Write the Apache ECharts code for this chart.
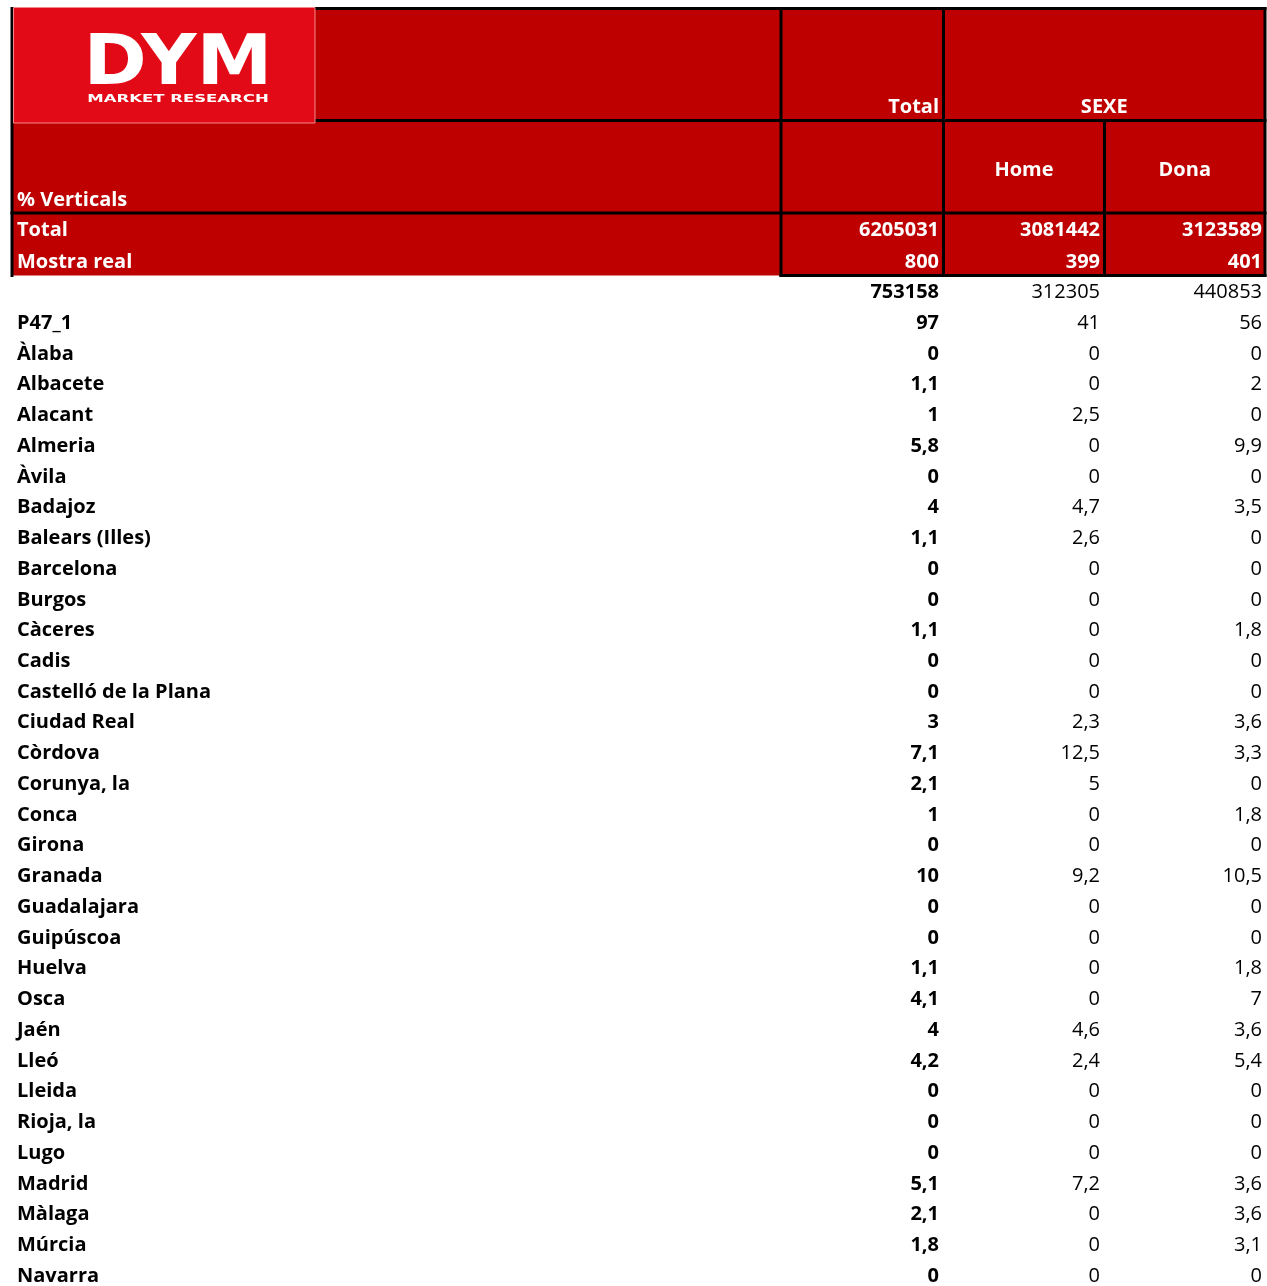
<!DOCTYPE html>
<html><head><meta charset="utf-8">
<script src="https://cdn.jsdelivr.net/npm/echarts@6/dist/echarts.min.js"></script>
<style>html,body{margin:0;padding:0;background:#fff}#c{width:1267px;height:1286px}</style>
</head><body><div id="c"></div>
<script>
// ---------- DATA ----------
const logoTitle = "DYM";
const logoSubtitle = "MARKET RESEARCH";
const tableTitle = "% Verticals";
const headerTotal = "Total";
const headerGroup = "SEXE";
const groupCols = ["Home", "Dona"];
const universeLabel = "Total";
const universeVals = [6205031, 3081442, 3123589];
const sampleLabel = "Mostra real";
const sampleVals = [800, 399, 401];

const rowLabels = ["", "P47_1", "Àlaba", "Albacete", "Alacant", "Almeria", "Àvila", "Badajoz",
  "Balears (Illes)", "Barcelona", "Burgos", "Càceres", "Cadis", "Castelló de la Plana",
  "Ciudad Real", "Còrdova", "Corunya, la", "Conca", "Girona", "Granada", "Guadalajara",
  "Guipúscoa", "Huelva", "Osca", "Jaén", "Lleó", "Lleida", "Rioja, la", "Lugo", "Madrid",
  "Màlaga", "Múrcia", "Navarra"];
const totalVals = [753158, 97, 0, 1.1, 1, 5.8, 0, 4, 1.1, 0, 0, 1.1, 0, 0, 3, 7.1, 2.1, 1, 0, 10,
  0, 0, 1.1, 4.1, 4, 4.2, 0, 0, 0, 5.1, 2.1, 1.8, 0];
const homeVals = [312305, 41, 0, 0, 2.5, 0, 0, 4.7, 2.6, 0, 0, 0, 0, 0, 2.3, 12.5, 5, 0, 0, 9.2,
  0, 0, 0, 0, 4.6, 2.4, 0, 0, 0, 7.2, 0, 0, 0];
const donaVals = [440853, 56, 0, 2, 0, 9.9, 0, 3.5, 0, 0, 0, 1.8, 0, 0, 3.6, 3.3, 0, 1.8, 0, 10.5,
  0, 0, 1.8, 7, 3.6, 5.4, 0, 0, 0, 3.6, 3.6, 3.1, 0];

// ---------- LAYOUT ----------
const W = 1267, H = 1286;
const FONT = 'Open Sans';
const FS = 20;
const LABEL_X = 17;
const COL_RIGHT = [939, 1100, 1262];
const X_L = 12, X_C1 = 781, X_C2 = 943.5, X_C3 = 1104.5, X_R = 1265;
const Y_T = 8.5, Y_H1 = 120.5, Y_H2 = 213, Y_B = 275.5;
const RED = '#BE0000', LOGO_RED = '#E30A17';
const fmt = v => String(v).replace('.', ',');

function headerRender(params, api) {
  const c = (x, y) => api.coord([x, y]);
  const kids = [];
  const rect = (x0, y0, x1, y1, style) => {
    const a = c(x0, y0), b = c(x1, y1);
    kids.push({type: 'rect', shape: {x: a[0], y: a[1], width: b[0] - a[0], height: b[1] - a[1]}, style});
  };
  const line = (x0, y0, x1, y1) => {
    const a = c(x0, y0), b = c(x1, y1);
    kids.push({type: 'line', shape: {x1: a[0], y1: a[1], x2: b[0], y2: b[1]}, style: {stroke: '#000', lineWidth: 3}});
  };
  const text = (s, x, y, align) => {
    const p = c(x, y);
    kids.push({type: 'text', x: p[0], y: p[1], style: {
      text: s, fill: '#fff', fontFamily: FONT, fontSize: FS, fontWeight: 'bold',
      align: align, verticalAlign: 'middle'}});
  };
  rect(X_L, Y_T, X_R, Y_B, {fill: RED});
  line(X_L - 1, Y_T, X_R + 1.5, Y_T);
  line(X_L, Y_T - 1.5, X_L, Y_B + 1.5);
  line(X_R, Y_T - 1.5, X_R, Y_B + 1.5);
  line(X_C1, Y_T - 1.5, X_C1, Y_B + 1.5);
  line(X_C2, Y_T - 1.5, X_C2, Y_B + 1.5);
  line(X_C3, Y_H1, X_C3, Y_B + 1.5);
  line(315, Y_H1, X_R + 1.5, Y_H1);
  line(X_L - 1.5, Y_H2, X_R + 1.5, Y_H2);
  line(X_C1 - 1.5, Y_B, X_R + 1.5, Y_B);
  // logo
  rect(13.5, 7.5, 315, 123, {fill: LOGO_RED, stroke: '#F28A8A', lineWidth: 1});
  const lp = c(178, 66);
  kids.push({type: 'text', x: lp[0], y: lp[1], scaleX: 1.09, style: {text: logoTitle, fill: '#fff',
    fontFamily: 'DejaVu Sans', fontWeight: 'bold', fontSize: 70, align: 'center', verticalAlign: 'middle'}});
  const sp = c(178, 99);
  kids.push({type: 'text', x: sp[0], y: sp[1], scaleX: 1.5, style: {text: logoSubtitle, fill: '#fff',
    fontFamily: 'DejaVu Sans', fontWeight: 'bold', fontSize: 11, align: 'center', verticalAlign: 'middle'}});
  // header texts
  text(headerTotal, COL_RIGHT[0], 107, 'right');
  text(headerGroup, (X_C2 + X_R) / 2, 107, 'center');
  text(groupCols[0], (X_C2 + X_C3) / 2, 170, 'center');
  text(groupCols[1], (X_C3 + X_R) / 2, 170, 'center');
  text(tableTitle, LABEL_X, 200, 'left');
  text(universeLabel, LABEL_X, 230, 'left');
  text(sampleLabel, LABEL_X, 262, 'left');
  universeVals.forEach((v, k) => text(fmt(v), COL_RIGHT[k], 230, 'right'));
  sampleVals.forEach((v, k) => text(fmt(v), COL_RIGHT[k], 262, 'right'));
  return {type: 'group', children: kids};
}

function bodyRender(params, api) {
  const i = api.value(1);
  const kids = [];
  const put = (s, xv, align, weight) => {
    const p = api.coord([xv, i]);
    kids.push({type: 'text', x: p[0], y: p[1], style: {text: s, fill: '#000', fontFamily: FONT,
      fontSize: FS, fontWeight: weight, align: align, verticalAlign: 'middle'}});
  };
  put(rowLabels[i], LABEL_X, 'left', 'bold');
  put(fmt(totalVals[i]), COL_RIGHT[0], 'right', 'bold');
  put(fmt(homeVals[i]), COL_RIGHT[1], 'right', 'normal');
  put(fmt(donaVals[i]), COL_RIGHT[2], 'right', 'normal');
  return {type: 'group', children: kids};
}

const chart = echarts.init(document.getElementById('c'), null, {renderer: 'canvas'});
chart.setOption({
  animation: false,
  backgroundColor: '#fff',
  grid: [{left: 0, top: 0, width: W, height: H}, {left: 0, top: 292.5, width: W, height: 983.5}],
  xAxis: [{type: 'value', min: 0, max: W, show: false, gridIndex: 0},
          {type: 'value', min: 0, max: W, show: false, gridIndex: 1}],
  yAxis: [{type: 'value', min: 0, max: H, inverse: true, show: false, gridIndex: 0},
          {type: 'category', boundaryGap: false, data: rowLabels.map((l, i) => String(i)),
           inverse: true, show: false, gridIndex: 1}],
  series: [
    {type: 'custom', xAxisIndex: 0, yAxisIndex: 0, clip: false, silent: true,
     data: [[0, 0]], renderItem: headerRender},
    {type: 'custom', xAxisIndex: 1, yAxisIndex: 1, clip: false, silent: true,
     encode: {x: 0, y: 1},
     data: rowLabels.map((l, i) => [0, i]), renderItem: bodyRender}
  ]
});
</script></body></html>
